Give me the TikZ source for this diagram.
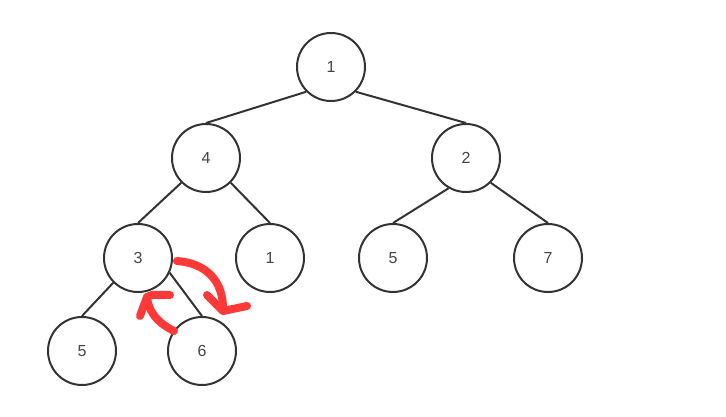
\documentclass[tikz,border=0pt]{standalone}
\usepackage{fontspec}
\setmainfont{Liberation Sans}
\definecolor{treegray}{RGB}{51,51,51}
\definecolor{textgray}{RGB}{68,68,68}
\definecolor{swapred}{RGB}{255,56,56}
\usetikzlibrary{arrows.meta,positioning,calc}

\begin{document}
\begin{tikzpicture}[
  x=0.75pt,y=-0.75pt,
  treenode/.style={circle,draw=treegray,line width=1.5pt,minimum size=51pt,
    inner sep=0pt,text=textgray,font=\fontsize{12}{14}\selectfont},
  link/.style={draw=treegray,line width=1.5pt},
  swapmark/.style={draw=swapred,line width=6pt,line cap=round,line join=round}
]
  \useasboundingbox (0,0) rectangle (726,417);
  % heap nodes
  \node[treenode] (root) at (331,67) {1};
  \node[treenode] (n4) at (206,158) {4};
  \node[treenode] (n2) at (466,158) {2};
  \node[treenode] (n3) at (138,258) {3};
  \node[treenode] (n1) at (270,258) {1};
  \node[treenode] (n5) at (393,258) {5};
  \node[treenode] (n7) at (548,258) {7};
  \node[treenode] (n5b) at (82,351) {5};
  \node[treenode] (n6) at (202,351) {6};
  % tree links
  \draw[link] (root.south west) -- (n4.north);
  \draw[link] (root.south east) -- (n2.north);
  \draw[link] (n4.south west) -- (n3.north);
  \draw[link] (n4.south east) -- (n1.north);
  \draw[link] (n2.240) -- (n5.north);
  \draw[link] (n2.south east) -- (n7.north);
  \draw[link] (n3.south west) -- (n5b.north);
  \draw[link] (n3.-25) -- (n6.north);
  % swap marks
  \coordinate (downstart) at (177,261);
  \coordinate (downtip) at (223,311);
  \coordinate (upstart) at (174,331);
  \coordinate (uptip) at (147,297);
  \draw[swapmark] (downstart) .. controls (205,263) and (224,280) .. (downtip);
  \draw[swapmark] (207,295) -- (downtip) -- (247,306);
  \draw[swapmark] (upstart) .. controls (156,322) and (148,310) .. (uptip);
  \draw[swapmark] (140,316) -- (uptip) -- (152,295) -- (170,295);
\end{tikzpicture}
\end{document}
